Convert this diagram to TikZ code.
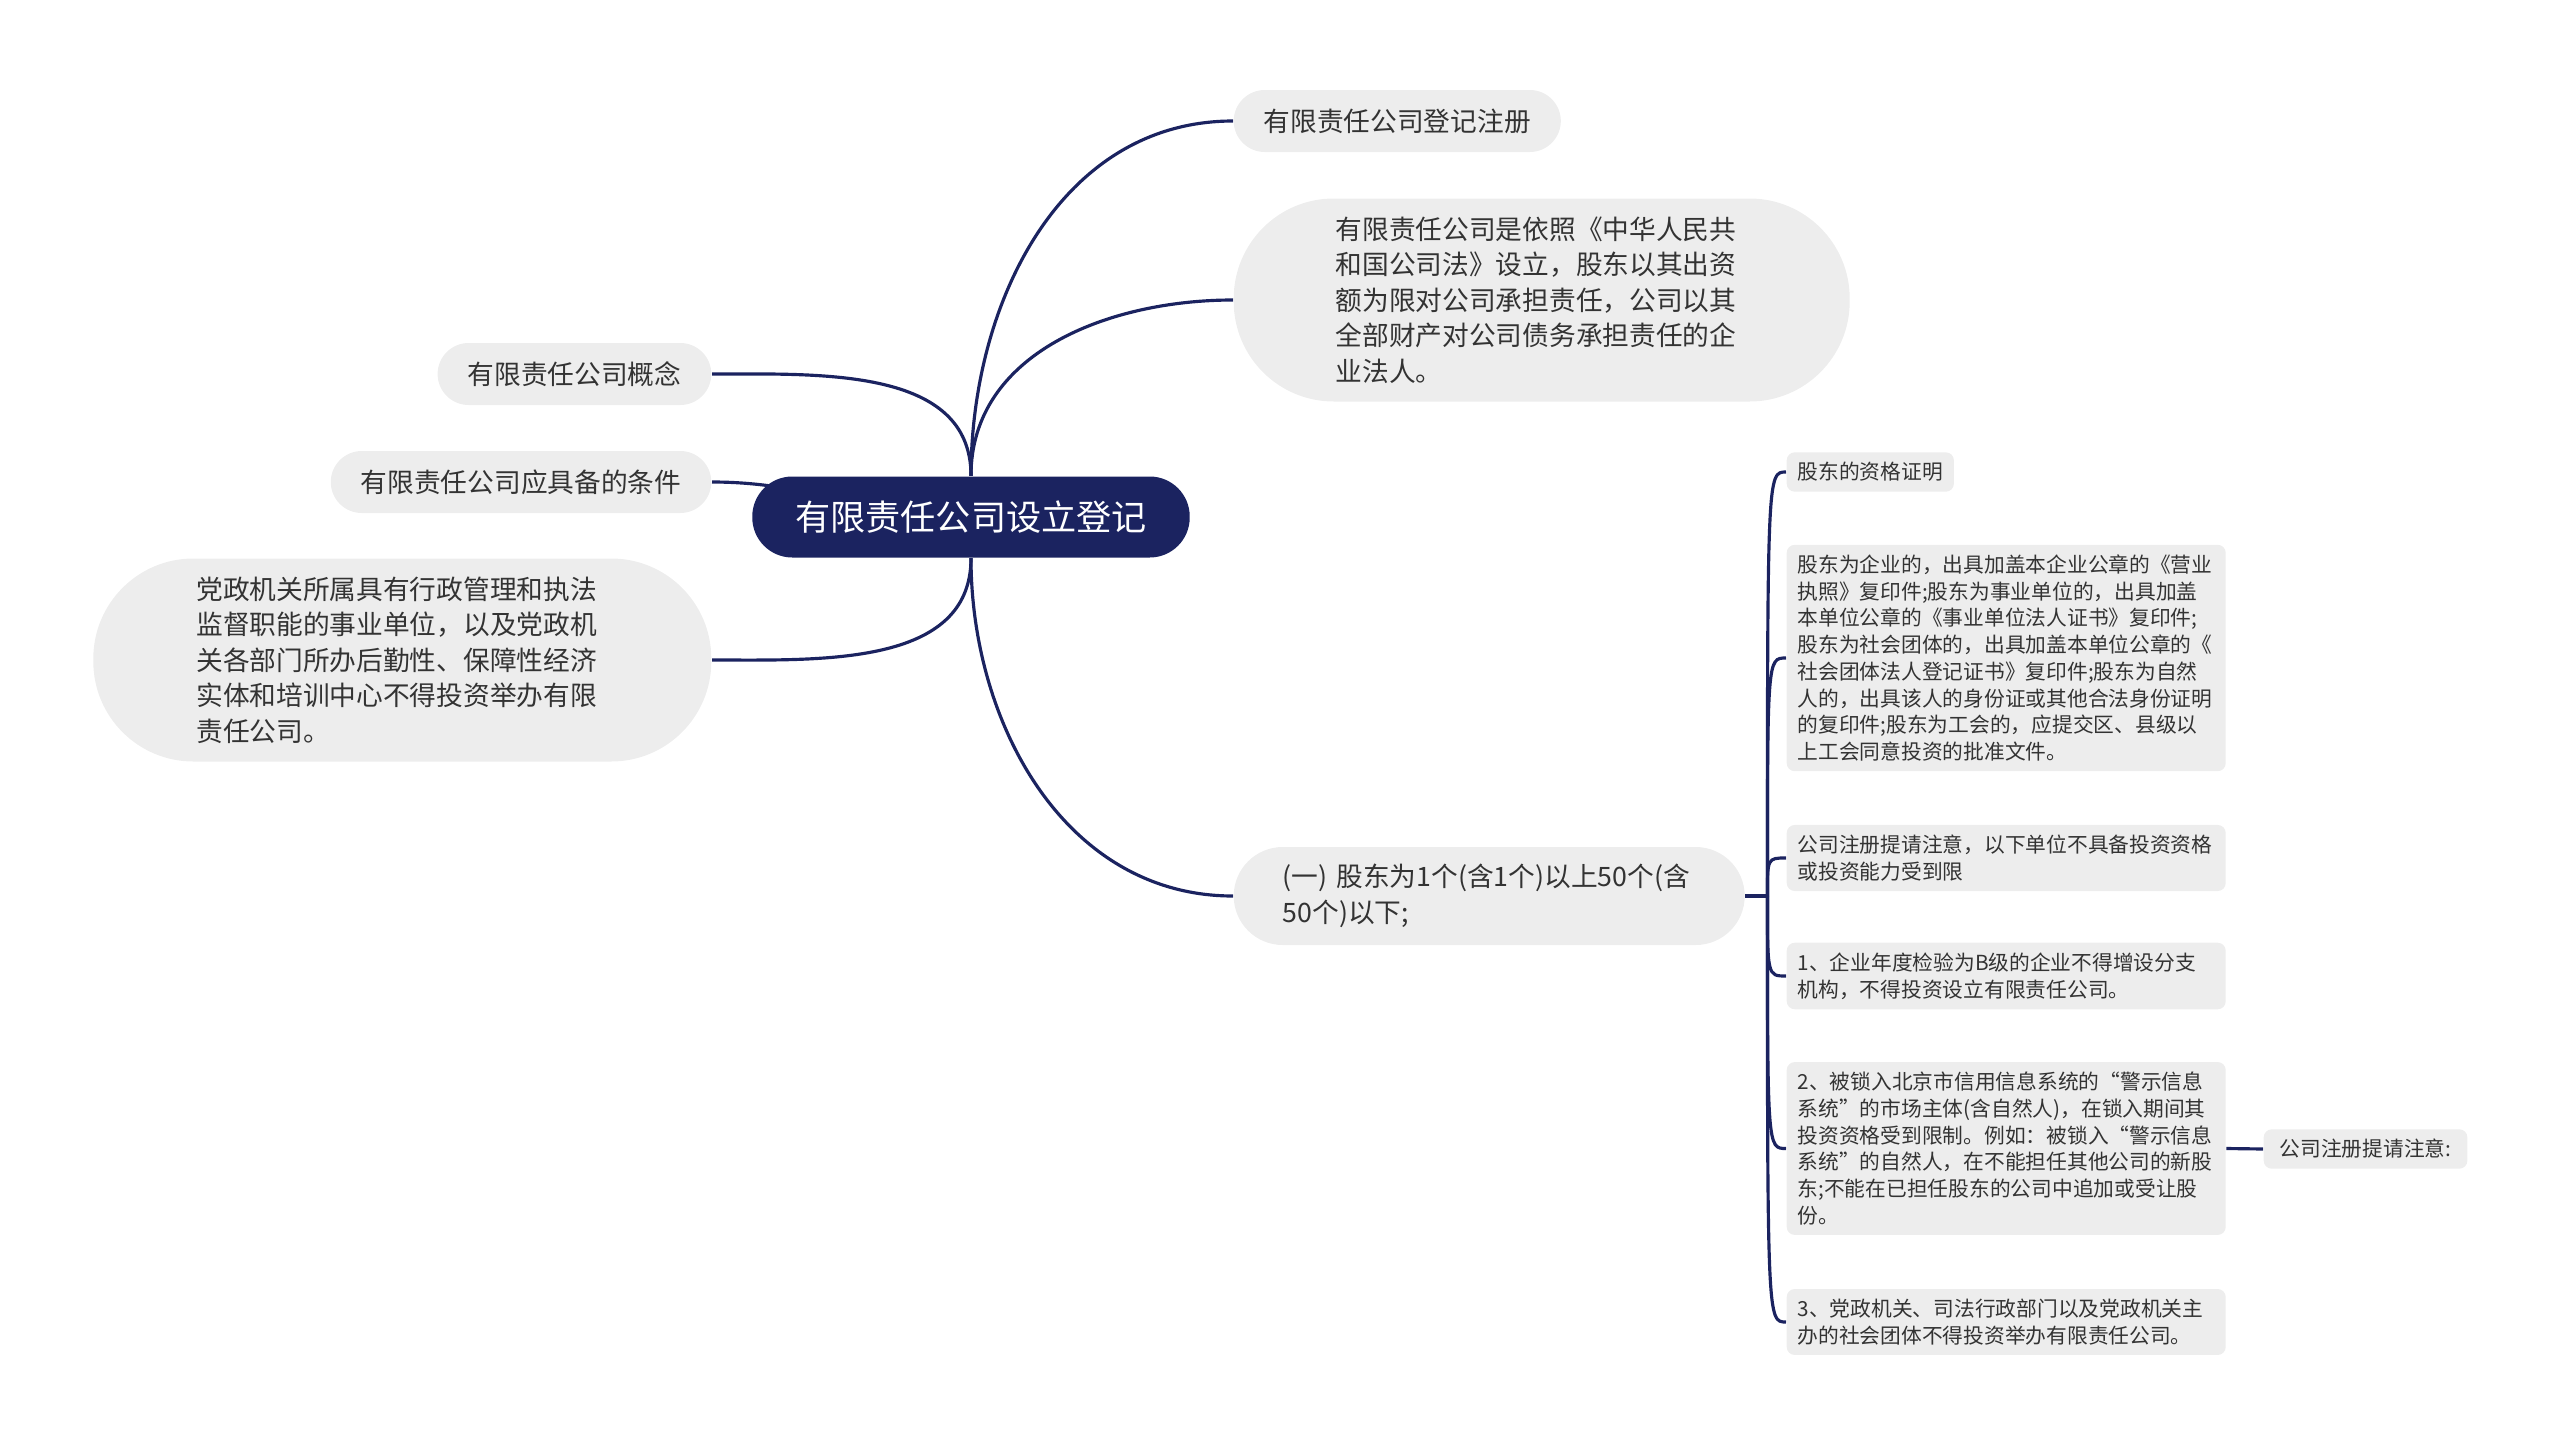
\documentclass[tikz,border=0pt]{standalone}
\usepackage{fontspec}
\setmainfont{Noto Sans CJK SC}
\usepackage{xcolor}
\usetikzlibrary{positioning,backgrounds}
\definecolor{navy}{HTML}{1B2360}
\definecolor{bubble}{HTML}{EDEDED}
\definecolor{ink}{HTML}{333333}

\begin{document}
\begin{tikzpicture}[
    hub/.style={fill=navy, text=white, rounded corners=0.4cm, minimum height=0.81cm, inner xsep=0.43cm,
                font=\fontsize{10}{12}\selectfont},
    branch/.style={fill=bubble, text=ink, rounded corners=0.31cm, minimum height=0.62cm, inner xsep=0.3cm,
                   font=\fontsize{7.6}{10.1}\selectfont},
    parabox/.style={fill=bubble, text=ink, rounded corners=1cm, minimum height=2.03cm, inner xsep=1.02cm,
                    text width=4.12cm, align=left, font=\fontsize{7.6}{10.1}\selectfont},
    leafbox/.style={fill=bubble, text=ink, rounded corners=0.08cm, inner xsep=0.11cm, inner ysep=0.1cm,
                    align=left, font=\fontsize{5.9}{7.6}\selectfont},
    wide/.style={text width=4.17cm},
    link/.style={draw=navy, line width=0.9pt}
  ]
  \useasboundingbox (0,0) rectangle (25.6,-14.49);

  \node[hub] (hub) at (9.71,-5.17) {有限责任公司设立登记};

  \node[branch, anchor=west] (reg) at (12.33,-1.21) {有限责任公司登记注册};
  \node[parabox, anchor=west] (def) at (12.33,-3.00) {有限责任公司是依照《中华人民共\\和国公司法》设立，股东以其出资\\额为限对公司承担责任，公司以其\\全部财产对公司债务承担责任的企\\业法人。};
  \node[branch, anchor=west, text width=4.13cm, align=left, minimum height=0.98cm, rounded corners=0.49cm,
        inner xsep=0.49cm] (holder) at (12.33,-8.96) {(一)~股东为1个(含1个)以上50个(含\\50个)以下;};

  \node[branch, anchor=east] (concept) at (7.12,-3.74) {有限责任公司概念};
  \node[branch, anchor=east] (cond) at (7.12,-4.82) {有限责任公司应具备的条件};
  \node[parabox, anchor=east, inner xsep=1.03cm] (forbid) at (7.12,-6.60) {党政机关所属具有行政管理和执法\\监督职能的事业单位，以及党政机\\关各部门所办后勤性、保障性经济\\实体和培训中心不得投资举办有限\\责任公司。};

  \node[leafbox, anchor=west] (proof) at (17.86,-4.72) {股东的资格证明};
  \node[leafbox, wide, anchor=west] (docs) at (17.86,-6.58) {股东为企业的，出具加盖本企业公章的《营业\\执照》复印件;股东为事业单位的，出具加盖\\本单位公章的《事业单位法人证书》复印件;\\股东为社会团体的，出具加盖本单位公章的《\\社会团体法人登记证书》复印件;股东为自然\\人的，出具该人的身份证或其他合法身份证明\\的复印件;股东为工会的，应提交区、县级以\\上工会同意投资的批准文件。};
  \node[leafbox, wide, anchor=west] (limit) at (17.86,-8.58) {公司注册提请注意，以下单位不具备投资资格\\或投资能力受到限};
  \node[leafbox, wide, anchor=west] (gradeb) at (17.86,-9.76) {1、企业年度检验为B级的企业不得增设分支\\机构，不得投资设立有限责任公司。};
  \node[leafbox, wide, anchor=west] (locked) at (17.86,-11.485) {2、被锁入北京市信用信息系统的“警示信息\\系统”的市场主体(含自然人)，在锁入期间其\\投资资格受到限制。例如：被锁入“警示信息\\系统”的自然人，在不能担任其他公司的新股\\东;不能在已担任股东的公司中追加或受让股\\份。};
  \node[leafbox, wide, anchor=west] (party) at (17.86,-13.22) {3、党政机关、司法行政部门以及党政机关主\\办的社会团体不得投资举办有限责任公司。};
  \node[leafbox, anchor=west, inner xsep=0.16cm] (note) at (22.63,-11.49) {公司注册提请注意:};

  \coordinate (fork) at ([xshift=0.22cm]holder.east);

  \begin{scope}[on background layer]
    \draw[link] (hub.north) to[out=90,in=180] (reg.west);
    \draw[link] (hub.north) to[out=90,in=180] (def.west);
    \draw[link] (hub.south) to[out=-90,in=180] (holder.west);
    \draw[link] (hub.north) to[out=90,in=0] (concept.east);
    \draw[link] (hub.center) to[out=180,in=0] (cond.east);
    \draw[link] (hub.south) to[out=-90,in=0] (forbid.east);

    \draw[link] (holder.east) -- (fork);
    \foreach \leaf in {proof,docs,limit,gradeb,locked,party}
      \draw[link] (fork) .. controls (fork |- \leaf.west) .. (\leaf.west);
    \draw[link] (locked.east) -- (note.west);
  \end{scope}
\end{tikzpicture}
\end{document}
